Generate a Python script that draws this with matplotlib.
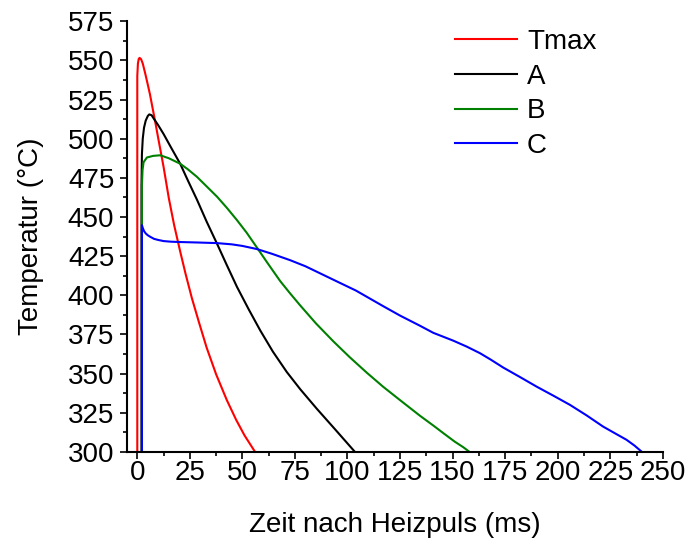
import matplotlib
matplotlib.use("Agg")
import matplotlib.pyplot as plt
from matplotlib.ticker import MultipleLocator

plt.rcParams['font.family'] = ['Liberation Sans', 'DejaVu Sans']

# Temperaturverlaeufe nach dem Heizpuls
t_tmax = [0, 0, 0.3, 0.7, 1.1, 1.8, 2.6, 3.8, 5.0, 6.0, 7.0, 8.5, 10.0, 12.5, 15.0, 17.5, 20.4, 23.0, 26.0,
          29.5, 33.0, 37.5, 42.6, 47.0, 51.0, 56.0]
T_tmax = [300, 540, 548, 551, 551.6, 550.8, 548, 541.5, 534.5, 528.5, 521.5, 511, 500, 482, 462, 445, 428,
          413.5, 398, 382, 366.5, 349.5, 333, 320.5, 310.5, 300]

t_a = [2.0, 2.0, 2.2, 2.6, 3.2, 4.0, 5.0, 5.7, 6.8, 8.0, 10.0, 12.5, 16.0, 20.4, 24.0, 28.4, 33.0, 37.9,
       42.5, 47.4, 53.0, 58.5, 64.5, 71.1, 77.5, 85.4, 94.0, 103.5]
T_a = [300, 470, 490, 500, 507, 511.5, 514.5, 515.5, 515, 512.5, 508.5, 503, 494.5, 484, 473.5, 461, 447,
       433, 419.5, 405.4, 391, 377.5, 364, 351, 340, 327.5, 314.5, 300]

t_b = [2.2, 2.2, 2.5, 3.0, 4.6, 7.5, 10.9, 15.0, 20.4, 24.0, 28.4, 33.0, 37.9, 42.5, 47.4, 52.0, 56.9, 62.0,
       68.0, 72.5, 77.5, 85.0, 93.3, 101.0, 109.2, 117.0, 125.0, 134.5, 140.8, 146.0, 151.0, 155.0, 158.0]
T_b = [300, 470, 480, 485, 488, 489, 489.4, 487.5, 484, 480.5, 475.6, 469.5, 463, 456, 448, 440, 430.5,
       420.5, 409, 401.5, 393.5, 382, 370.5, 360.5, 350.5, 341.5, 333, 323, 316.8, 311.5, 306.5, 303, 300]

t_c = [2.2, 2.2, 2.6, 3.2, 4.0, 5.0, 6.2, 8.0, 10.0, 12.5, 16.0, 20.0, 28.4, 37.9, 45.0, 50.0, 56.9, 64.0,
       72.7, 80.0, 88.5, 97.0, 104.0, 109.2, 117.0, 125.0, 134.5, 140.8, 150.3, 156.7, 163.0, 168.0, 174.1,
       182.0, 190.0, 198.0, 205.8, 213.7, 221.6, 227.0, 232.7, 236.5, 240.0]
T_c = [300, 444.8, 443, 441, 439.5, 438.3, 437.3, 436, 435.3, 434.6, 434.2, 434, 433.7, 433.3, 432.5, 431.5,
       429.5, 426.5, 422.4, 418.5, 413, 407.5, 403, 399, 393, 387, 380.5, 376, 371, 367.2, 363, 359, 353.8,
       347.8, 341.6, 335.8, 330, 323.3, 316.1, 312, 307.7, 304, 300]

labels = ['Tmax', 'A', 'B', 'C']
colors = ['#ff0000', '#000000', '#008000', '#0000ff']

fig = plt.figure(figsize=(6.89, 5.45), dpi=100)
ax = fig.add_axes([0.184, 0.171, 0.778, 0.790])

for t, T, lab, c in zip([t_tmax, t_a, t_b, t_c], [T_tmax, T_a, T_b, T_c], labels, colors):
    ax.plot(t, T, color=c, lw=1.5, label=lab)

ax.set_xlim(-5, 250)
ax.set_ylim(300, 575)
ax.xaxis.set_major_locator(MultipleLocator(25))
ax.xaxis.set_minor_locator(MultipleLocator(12.5))
ax.yaxis.set_major_locator(MultipleLocator(25))
ax.yaxis.set_minor_locator(MultipleLocator(12.5))

ax.spines['top'].set_visible(False)
ax.spines['right'].set_visible(False)
for s in ['left', 'bottom']:
    ax.spines[s].set_linewidth(1.5)
ax.tick_params(which='major', direction='out', length=5, width=1.2, labelsize=20)
ax.tick_params(which='minor', direction='out', length=3, width=1.2)
ax.tick_params(axis='y', pad=4)
ax.tick_params(axis='x', pad=1)

ax.set_xlabel('Zeit nach Heizpuls (ms)', fontsize=20)
ax.set_ylabel('Temperatur (°C)', fontsize=20)
ax.xaxis.set_label_coords(0.5, -0.14)
ax.yaxis.set_label_coords(-0.155, 0.5)

ax.legend(loc='upper left', bbox_to_anchor=(455 / 689, 1 - 29 / 545), bbox_transform=fig.transFigure,
          frameon=False, fontsize=20, borderpad=0, borderaxespad=0,
          handlelength=2.23, handletextpad=0.36, labelspacing=0.31)

fig.savefig('out.png', dpi=100)
